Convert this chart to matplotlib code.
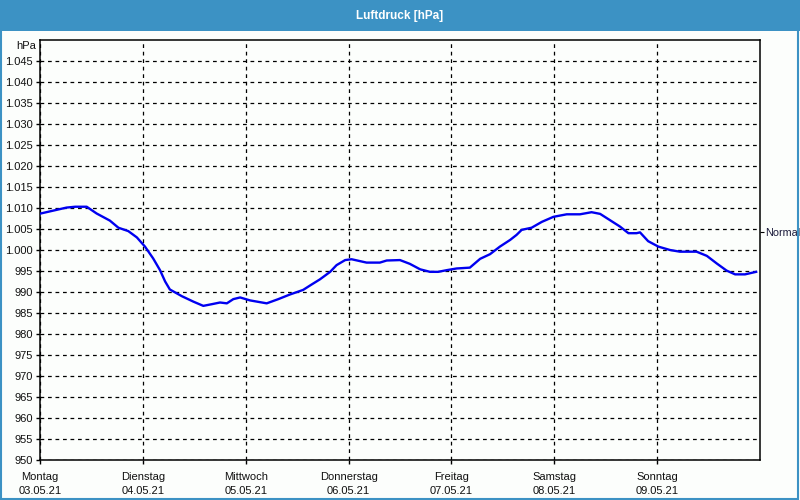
import matplotlib
matplotlib.use("Agg")
import matplotlib.pyplot as plt
import matplotlib.transforms as mtransforms
from matplotlib.patches import Rectangle

# hours since Monday 03.05.21 00:00
hours = [0.2, 6.2, 8.2, 10.9, 13.2, 16.3, 18.3, 20.6, 22.6, 24.5, 26.4, 28.0, 29.2, 30.3,
         33.1, 35.8, 38.1, 40.1, 42.0, 43.6, 45.1, 46.7, 49.0, 52.9, 55.6, 58.3, 61.4,
         63.4, 65.3, 67.7, 69.2, 71.2, 72.7, 76.2, 79.3, 80.9, 84.0, 86.3, 88.7, 91.0,
         92.9, 94.9, 97.2, 100.3, 102.7, 105.0, 107.3, 109.7, 111.2, 112.4, 114.7, 117.1,
         119.8, 122.9, 126.0, 128.7, 130.7, 133.0, 135.3, 137.3, 139.2, 140.0, 141.9,
         144.3, 147.0, 149.3, 153.2, 155.6, 157.9, 160.2, 162.2, 164.5, 167.1]
pressure = [1008.7, 1010.1, 1010.3, 1010.3, 1008.7, 1007.0, 1005.3, 1004.5, 1003.0, 1000.8,
            998.0, 995.2, 992.5, 990.6, 989.0, 987.7, 986.7, 987.1, 987.5, 987.3, 988.3,
            988.7, 988.0, 987.3, 988.3, 989.4, 990.5, 991.8, 993.0, 994.8, 996.4, 997.6,
            997.8, 997.0, 997.0, 997.5, 997.6, 996.7, 995.4, 994.8, 994.8, 995.2, 995.6,
            995.8, 997.9, 999.0, 1000.8, 1002.4, 1003.6, 1004.8, 1005.3, 1006.7, 1007.9,
            1008.5, 1008.5, 1009.0, 1008.6, 1007.1, 1005.6, 1004.0, 1004.0, 1004.2, 1002.1,
            1000.8, 1000.0, 999.6, 999.6, 998.6, 996.8, 995.1, 994.2, 994.2, 994.8]

day_names = ["Montag", "Dienstag", "Mittwoch", "Donnerstag", "Freitag", "Samstag", "Sonntag"]
day_dates = ["03.05.21", "04.05.21", "05.05.21", "06.05.21", "07.05.21", "08.05.21", "09.05.21"]
normal_value = 1004.4
y_ticks = list(range(950, 1050, 5))

plt.rcParams["font.family"] = ["Liberation Sans", "DejaVu Sans"]
plt.rcParams["font.size"] = 8

bg = "#fcfefc"
bar_color = "#3c92c4"
txt = "#111111"

fig = plt.figure(figsize=(8, 5), dpi=100, facecolor=bg)

# title bar and border
fig.add_artist(Rectangle((0, 469 / 500), 1, 31 / 500, transform=fig.transFigure,
                         facecolor=bar_color, edgecolor="none"))
fig.add_artist(Rectangle((0.001, 0.002), 0.997, 0.996, transform=fig.transFigure,
                         facecolor="none", edgecolor=bar_color, lw=1.5))
fig.text(0.5, 1 - 15.5 / 500, "Luftdruck [hPa]", color="white", fontweight="bold",
         ha="center", va="center", fontsize=8.5)

ax = fig.add_axes([0.05, 0.08, 0.9, 0.84])
ax.set_facecolor(bg)
ax.plot(hours, pressure, color="#0000f0", lw=1.7, zorder=3)

ax.set_xlim(0, 168)
ax.set_ylim(950, 1050)
day_ticks = [24 * i for i in range(7)]
ax.set_xticks(day_ticks)
ax.set_xticklabels([])
ax.set_yticks(y_ticks)
ax.set_yticklabels([f"{v // 1000}.{v % 1000:03d}" if v >= 1000 else str(v) for v in y_ticks])
ax.tick_params(axis="both", direction="out", length=3, width=1, colors="black", labelcolor=txt)
ax.tick_params(axis="y", pad=2)
ax.grid(True, color="black", linestyle=(0, (3, 3)), lw=0.9)
for s in ax.spines.values():
    s.set_color("black")
    s.set_linewidth(1.1)

# two-line day labels below the axis
base = ax.get_xaxis_transform()
name_tr = mtransforms.offset_copy(base, fig=fig, x=0, y=-20, units="dots")
date_tr = mtransforms.offset_copy(base, fig=fig, x=0, y=-34, units="dots")
for t, n, d in zip(day_ticks, day_names, day_dates):
    ax.text(t, 0, n, transform=name_tr, ha="center", va="baseline", color=txt)
    ax.text(t, 0, d, transform=date_tr, ha="center", va="baseline", color=txt)

ax.text(-0.005, 0.986, "hPa", transform=ax.transAxes, ha="right", va="center", color=txt)

ax2 = ax.twinx()
ax2.set_ylim(950, 1050)
ax2.set_yticks([normal_value])
ax2.set_yticklabels(["Normal"], color="#1a1a3a", fontsize=7.8)
ax2.tick_params(axis="y", direction="out", length=3, pad=0.5)
for s in ax2.spines.values():
    s.set_visible(False)

fig.savefig("out.png", dpi=100, facecolor=bg)
